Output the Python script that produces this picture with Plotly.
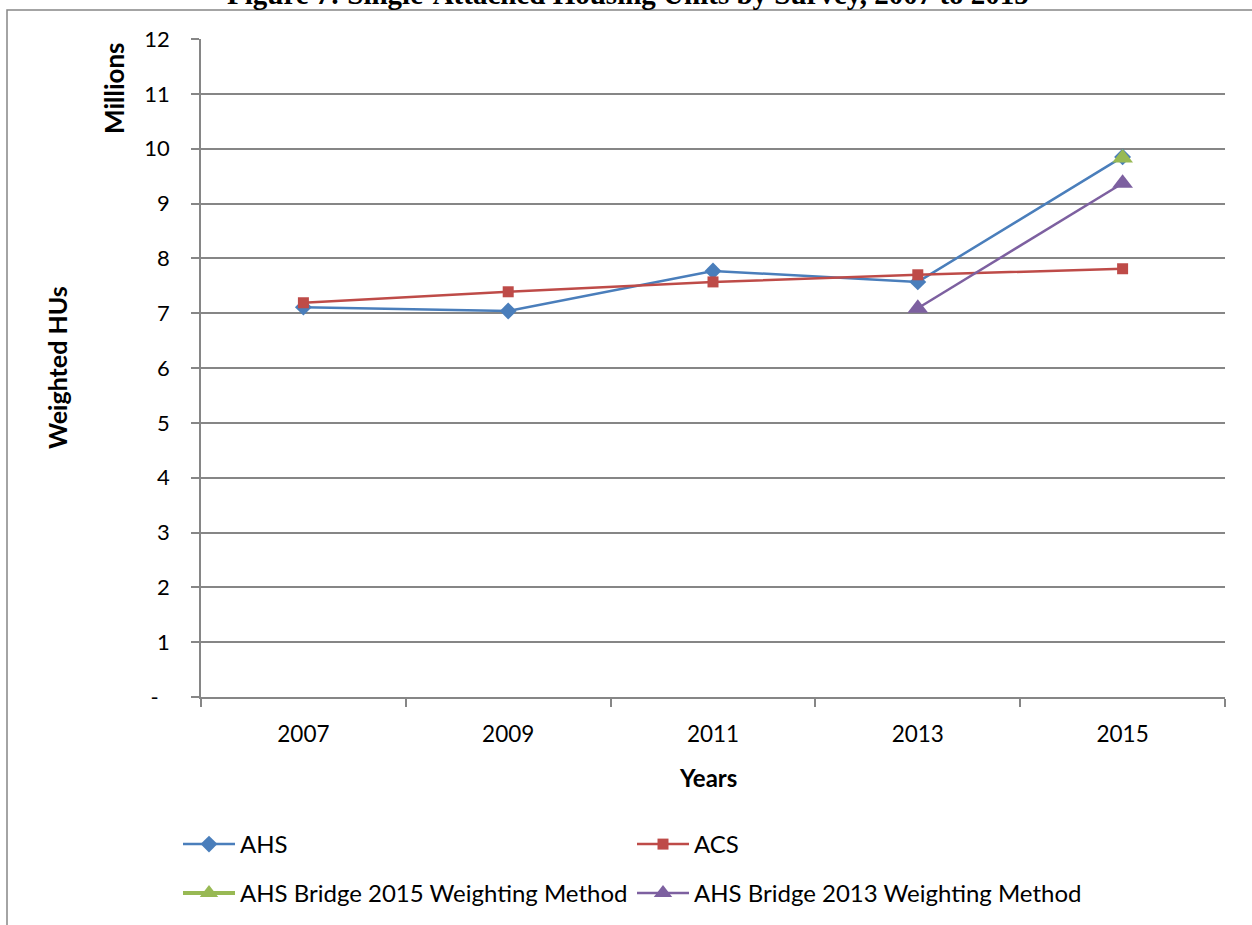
import plotly.graph_objects as go

# Survey years (category axis)
years = ["2007", "2009", "2011", "2013", "2015"]

# Weighted housing units, millions
ahs = [7.11, 7.04, 7.77, 7.57, 9.85]
acs = [7.19, 7.39, 7.57, 7.70, 7.81]
bridge_2015 = [None, None, None, None, 9.83]
bridge_2013 = [None, None, None, 7.09, 9.37]

y_tickvals = list(range(0, 13))
y_ticktext = ["-  "] + [str(v) for v in range(1, 13)]

FONT = "Lato, 'Open Sans', sans-serif"
GRID = "#868686"

fig = go.Figure()

fig.add_trace(go.Scatter(
    x=years, y=ahs, name="AHS", mode="lines+markers",
    line=dict(color="#4A7EBB", width=2.5),
    marker=dict(symbol="diamond", size=13, color="#4A7EBB"),
    legend="legend",
))
fig.add_trace(go.Scatter(
    x=years, y=acs, name="ACS", mode="lines+markers",
    line=dict(color="#BE4B48", width=2.5),
    marker=dict(symbol="square", size=11, color="#BE4B48"),
    legend="legend",
))
fig.add_trace(go.Scatter(
    x=years, y=bridge_2015, name="AHS Bridge 2015 Weighting Method",
    mode="lines+markers",
    line=dict(color="#98B954", width=4),
    marker=dict(symbol="triangle-up", size=18, color="#98B954"),
    legend="legend2",
))
fig.add_trace(go.Scatter(
    x=years, y=bridge_2013, name="AHS Bridge 2013 Weighting Method",
    mode="lines+markers",
    line=dict(color="#7D60A0", width=2.5),
    marker=dict(symbol="triangle-up", size=18, color="#7D60A0"),
    legend="legend2",
))

W, H = 1252, 925
L, R, T, B = 201, 27, 39, 228
pw, ph = W - L - R, H - T - B


def px_x(x):
    return (x - L) / pw


def px_y(y):
    return 1 - (y - T) / ph


legend_common = dict(
    orientation="h", xanchor="left", yanchor="top",
    entrywidth=387, entrywidthmode="pixels",
    font=dict(family=FONT, size=24), itemwidth=52, bgcolor="rgba(0,0,0,0)",
)

fig.update_layout(
    width=W, height=H,
    margin=dict(l=L, r=R, t=T, b=B, autoexpand=False),
    paper_bgcolor="white", plot_bgcolor="white",
    font=dict(family=FONT, size=22, color="black"),
    showlegend=True,
    legend=dict(x=px_x(178), y=px_y(822), **legend_common),
    legend2=dict(x=px_x(178), y=px_y(871), **legend_common),
    xaxis=dict(
        type="category", tickson="boundaries", ticks="outside", ticklen=8,
        tickcolor=GRID, tickwidth=1.5, showline=True, linecolor=GRID, linewidth=1.5,
        showgrid=False, tickfont=dict(size=22.5), ticklabelstandoff=16,
        range=[-0.5, 4.5], automargin=False,
    ),
    yaxis=dict(
        range=[0, 12], tickvals=y_tickvals, ticktext=y_ticktext,
        ticks="outside", ticklen=8, tickcolor=GRID, tickwidth=1.5,
        showline=True, linecolor=GRID, linewidth=1.5,
        showgrid=True, gridcolor=GRID, gridwidth=1.5, zeroline=False,
        tickfont=dict(size=22), ticklabelstandoff=17, automargin=False,
    ),
)

# outer chart frame
fig.add_shape(type="rect", xref="paper", yref="paper",
              x0=px_x(7), x1=px_x(1262), y0=px_y(940), y1=px_y(10),
              line=dict(color=GRID, width=1.5), fillcolor="rgba(0,0,0,0)", layer="below")

annotations = [
    dict(text="<b>Figure 7: Single-Attached Housing Units by Survey, 2007 to 2015</b>",
         x=px_x(628), y=px_y(-6), xanchor="center", yanchor="middle",
         font=dict(family="Liberation Serif, 'Times New Roman', serif", size=29)),
    dict(text="<b>Millions</b>", x=px_x(114), y=px_y(88), textangle=-90,
         xanchor="center", yanchor="middle", font=dict(size=26)),
    dict(text="<b>Weighted HUs</b>", x=px_x(57), y=px_y(368), textangle=-90,
         xanchor="center", yanchor="middle", font=dict(size=25)),
    dict(text="<b>Years</b>", x=px_x(708), y=px_y(777),
         xanchor="center", yanchor="middle", font=dict(size=24)),
]
for a in annotations:
    fig.add_annotation(xref="paper", yref="paper", showarrow=False, **a)

fig.write_html("out.html")
